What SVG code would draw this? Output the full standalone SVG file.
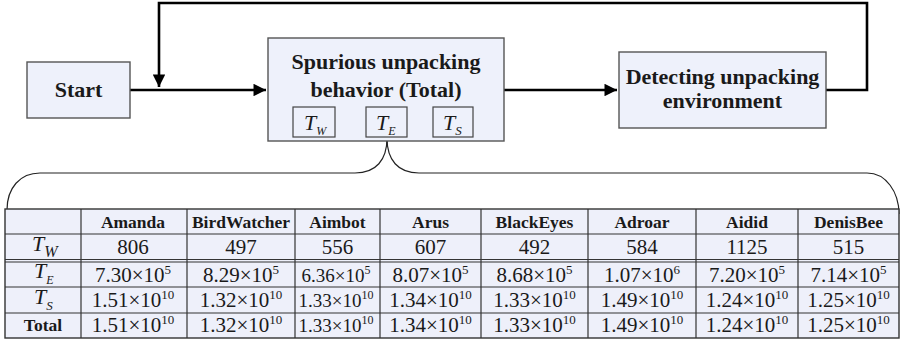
<svg xmlns="http://www.w3.org/2000/svg" width="906" height="340" viewBox="0 0 906 340">
<style>
.box{fill:#eef1fb;stroke:#555;stroke-width:1.4}
.sub{fill:none;stroke:#444;stroke-width:1.2}
.lbl{font-family:"Liberation Serif","Times New Roman",serif;font-weight:bold;font-size:22px;fill:#1a1a1a;text-anchor:middle}
.it{font-family:"Liberation Serif","Times New Roman",serif;font-style:italic;fill:#1a1a1a}
.conn{fill:none;stroke:#000;stroke-width:2.6}
.brace{fill:none;stroke:#222;stroke-width:1.2}
.grid{stroke:#333;stroke-width:1.2}
.hd{font-family:"Liberation Serif","Times New Roman",serif;font-weight:bold;font-size:17.5px;fill:#1a1a1a;text-anchor:middle}
.v{font-family:"Liberation Serif","Times New Roman",serif;font-size:21px;fill:#1a1a1a;text-anchor:middle}
.sp{font-size:13px}
.nar{font-size:19px}
.nar .sp{font-size:12px}
</style>
<defs>
<marker id="arr" viewBox="0 0 10 10" refX="10" refY="5" markerWidth="5.2" markerHeight="4.8" markerUnits="strokeWidth" orient="auto">
<path d="M0,0 L10,5 L0,10 z" fill="#000"/>
</marker>
</defs>

<g id="connectors">
<path class="conn" d="M130,90 L266,90" marker-end="url(#arr)"/>
<path class="conn" d="M504,90 L617,90" marker-end="url(#arr)"/>
<path class="conn" d="M826,90 L867,90 L867,3 L159,3 L159,87" marker-end="url(#arr)"/>
<path class="brace" d="M387,138 C387,160 376,173 355,173 L40,173 C20,173 7,188 7,210"/>
<path class="brace" d="M387,138 C387,160 398,173 419,173 L867,173 C886,173 899,192 899,214"/>
</g>

<g id="start">
<rect class="box" x="27" y="62" width="103" height="56"/>
<text class="lbl" x="78.5" y="97">Start</text>
</g>

<g id="spurious">
<rect class="box" x="268" y="38" width="236" height="103"/>
<text class="lbl" x="386" y="69">Spurious unpacking</text>
<text class="lbl" x="386" y="97">behavior (Total)</text>
<rect class="sub" x="293" y="107" width="42" height="30"/>
<text class="it" x="304" y="130" font-size="22">T<tspan font-size="12" dy="5">W</tspan></text>
<rect class="sub" x="366" y="107" width="41" height="30"/>
<text class="it" x="376" y="130" font-size="22">T<tspan font-size="12" dy="5">E</tspan></text>
<rect class="sub" x="433" y="107" width="40" height="30"/>
<text class="it" x="443" y="130" font-size="22">T<tspan font-size="13" dy="5">S</tspan></text>
</g>

<g id="detecting">
<rect class="box" x="619" y="52" width="207" height="76"/>
<text class="lbl" x="722.5" y="84">Detecting unpacking</text>
<text class="lbl" x="722.5" y="108">environment</text>
</g>

<g id="table">
<rect x="5" y="209" width="894" height="129" fill="#eef0fa" stroke="#333" stroke-width="1.4"/>
<g class="grid">
<line x1="5" y1="234" x2="899" y2="234"/>
<line x1="5" y1="259.5" x2="899" y2="259.5"/>
<line x1="5" y1="262" x2="899" y2="262"/>
<line x1="5" y1="287" x2="899" y2="287"/>
<line x1="5" y1="313" x2="899" y2="313"/>
<line x1="81" y1="209" x2="81" y2="338"/>
<line x1="187" y1="209" x2="187" y2="338"/>
<line x1="295" y1="209" x2="295" y2="338"/>
<line x1="380" y1="209" x2="380" y2="338"/>
<line x1="481" y1="209" x2="481" y2="338"/>
<line x1="588" y1="209" x2="588" y2="338"/>
<line x1="696" y1="209" x2="696" y2="338"/>
<line x1="798" y1="209" x2="798" y2="338"/>
</g>
<g class="hd">
<text x="133" y="227.5">Amanda</text>
<text x="241" y="227.5">BirdWatcher</text>
<text x="337.5" y="227.5">Aimbot</text>
<text x="430.5" y="227.5">Arus</text>
<text x="534.5" y="227.5">BlackEyes</text>
<text x="642" y="227.5">Adroar</text>
<text x="747" y="227.5">Aidid</text>
<text x="848.5" y="227.5">DenisBee</text>
</g>
<text class="it" x="32" y="251" font-size="22">T<tspan font-size="16" dy="6">W</tspan></text>
<text class="it" x="34" y="278" font-size="22">T<tspan font-size="12" dy="6">E</tspan></text>
<text class="it" x="34" y="304" font-size="22">T<tspan font-size="13" dy="6">S</tspan></text>
<text class="hd" x="43" y="331">Total</text>
<g class="v">
<text x="133" y="254">806</text>
<text x="241" y="254">497</text>
<text x="337.5" y="254">556</text>
<text x="430.5" y="254">607</text>
<text x="534.5" y="254">492</text>
<text x="642" y="254">584</text>
<text x="747" y="254">1125</text>
<text x="848.5" y="254">515</text>

<text x="133" y="282">7.30×10<tspan class="sp" dy="-8">5</tspan></text>
<text x="241" y="282">8.29×10<tspan class="sp" dy="-8">5</tspan></text>
<text class="nar" x="336" y="282">6.36×10<tspan class="sp" dy="-8">5</tspan></text>
<text x="430.5" y="282">8.07×10<tspan class="sp" dy="-8">5</tspan></text>
<text x="534.5" y="282">8.68×10<tspan class="sp" dy="-8">5</tspan></text>
<text x="642" y="282">1.07×10<tspan class="sp" dy="-8">6</tspan></text>
<text x="747" y="282">7.20×10<tspan class="sp" dy="-8">5</tspan></text>
<text x="848.5" y="282">7.14×10<tspan class="sp" dy="-8">5</tspan></text>

<text x="133" y="307">1.51×10<tspan class="sp" dy="-8">10</tspan></text>
<text x="241" y="307">1.32×10<tspan class="sp" dy="-8">10</tspan></text>
<text class="nar" x="336" y="307">1.33×10<tspan class="sp" dy="-8">10</tspan></text>
<text x="430.5" y="307">1.34×10<tspan class="sp" dy="-8">10</tspan></text>
<text x="534.5" y="307">1.33×10<tspan class="sp" dy="-8">10</tspan></text>
<text x="642" y="307">1.49×10<tspan class="sp" dy="-8">10</tspan></text>
<text x="747" y="307">1.24×10<tspan class="sp" dy="-8">10</tspan></text>
<text x="848.5" y="307">1.25×10<tspan class="sp" dy="-8">10</tspan></text>

<text x="133" y="332">1.51×10<tspan class="sp" dy="-8">10</tspan></text>
<text x="241" y="332">1.32×10<tspan class="sp" dy="-8">10</tspan></text>
<text class="nar" x="336" y="332">1.33×10<tspan class="sp" dy="-8">10</tspan></text>
<text x="430.5" y="332">1.34×10<tspan class="sp" dy="-8">10</tspan></text>
<text x="534.5" y="332">1.33×10<tspan class="sp" dy="-8">10</tspan></text>
<text x="642" y="332">1.49×10<tspan class="sp" dy="-8">10</tspan></text>
<text x="747" y="332">1.24×10<tspan class="sp" dy="-8">10</tspan></text>
<text x="848.5" y="332">1.25×10<tspan class="sp" dy="-8">10</tspan></text>
</g>
</g>
</svg>
